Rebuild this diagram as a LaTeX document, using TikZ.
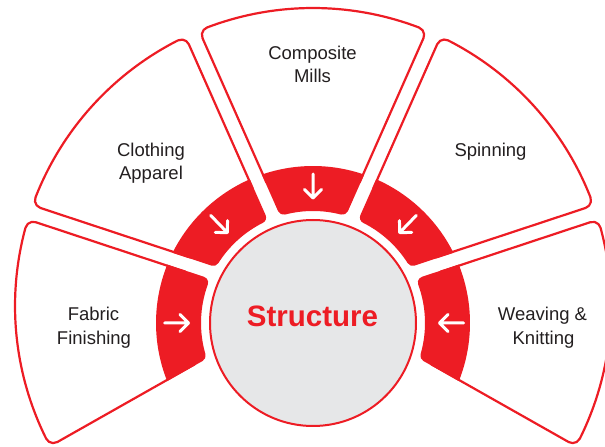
\documentclass[tikz,border=0pt]{standalone}
\usepackage{fontspec}
\setmainfont{Liberation Sans}
\usetikzlibrary{calc}
\definecolor{segred}{HTML}{ED1C24}
\definecolor{circgray}{HTML}{E6E7E8}
\definecolor{txtdark}{HTML}{231F20}
% geometry (units of 10pt)
\def\hh{1.7}      % P lies \hh above C
\def\Rb{29.8}     % outer radius of boxes (around P)
\def\rhob{0.8}    % box corner radius
\def\dd{0.75}     % half gap for boxes
\def\dr{0.65}     % half gap for ring segments
\def\Lin{13.2}    % hidden inner end of boxes
\def\rout{15.7}   % ring outer radius (around C)
\def\rin{11.2}    % ring inner radius
\def\rhor{0.6}    % ring inner corner radius
% point on circle (C, #4) and line offset #3 (side #2) from ray #1 through P
\newcommand\ringpt[6]{%
  \pgfmathsetmacro\rpsa{sin(#1)}%
  \pgfmathsetmacro\rpca{cos(#1)}%
  \pgfmathsetmacro\rpdisc{\hh*\hh*\rpsa*\rpsa-\hh*\hh-(#3)*(#3)-2*\hh*(#3)*(#2)*\rpca+(#4)*(#4)}%
  \pgfmathsetmacro\rpt{-\hh*\rpsa+sqrt(\rpdisc)}%
  \pgfmathsetmacro#5{\rpt*\rpca-(#2)*(#3)*\rpsa}%
  \pgfmathsetmacro#6{\hh+\rpt*\rpsa+(#2)*(#3)*\rpca}%
}
\newcommand\fanbox[2]{%
  \pgfmathsetmacro\fbdl{asin((\dd+\rhob)/(\Rb-\rhob))}%
  \pgfmathsetmacro\fbL{(\Rb-\rhob)*cos(\fbdl)}%
  \pgfmathsetmacro\fbsa{#1-90}\pgfmathsetmacro\fbea{#1+\fbdl}%
  \pgfmathsetmacro\fbeb{#2-\fbdl}\pgfmathsetmacro\fbsb{#2+90}%
  \filldraw[boxline] ($(P)+(#1:\Lin)+(#1+90:\dd)$) -- ($(P)+(#1:\fbL)+(#1+90:\dd)$)
    arc[start angle=\fbsa, end angle=\fbea, radius=\rhob]
    arc[start angle=\fbea, end angle=\fbeb, radius=\Rb]
    arc[start angle=\fbeb, end angle=\fbsb, radius=\rhob]
    -- ($(P)+(#2:\Lin)+(#2-90:\dd)$) -- cycle;
}
\newcommand\ringseg[2]{%
  \ringpt{#1}{1}{\dr}{\rout}{\xoa}{\yoa}%
  \ringpt{#2}{-1}{\dr}{\rout}{\xob}{\yob}%
  \ringpt{#1}{1}{\dr+\rhor}{\rin+\rhor}{\qax}{\qay}%
  \ringpt{#2}{-1}{\dr+\rhor}{\rin+\rhor}{\qbx}{\qby}%
  \pgfmathsetmacro\alA{atan2(\yoa,\xoa)}%
  \pgfmathsetmacro\alB{atan2(\yob,\xob)}%
  \pgfmathsetmacro\alBB{\alA+mod(\alB-\alA+720,360)}%
  \pgfmathsetmacro\beA{atan2(\qay,\qax)}%
  \pgfmathsetmacro\beB{atan2(\qby,\qbx)}%
  \pgfmathsetmacro\tlbx{\qbx-\rhor*sin(#2)}%
  \pgfmathsetmacro\tlby{\qby+\rhor*cos(#2)}%
  \pgfmathsetmacro\fbs{#2+90}%
  \pgfmathsetmacro\fbe{\fbs+mod(\beB+180-\fbs+720,360)}%
  \pgfmathsetmacro\beAA{\beB-mod(\beB-\beA+720,360)}%
  \pgfmathsetmacro\fas{\beA+180}%
  \pgfmathsetmacro\fae{\fas+mod(#1+270-\fas+720,360)}%
  \fill[segred] ($(C)+(\xoa,\yoa)$)
    arc[start angle=\alA, end angle=\alBB, radius=\rout]
    -- ($(C)+(\tlbx,\tlby)$)
    arc[start angle=\fbs, end angle=\fbe, radius=\rhor]
    arc[start angle=\beB, end angle=\beAA, radius=\rin]
    arc[start angle=\fas, end angle=\fae, radius=\rhor]
    -- cycle;
}
\tikzset{
  boxline/.style={draw=segred, fill=white, line width=2.2pt, line join=round},
  core/.style={circle, draw=segred, fill=circgray, line width=2pt, minimum size=206pt, inner sep=0pt},
  lbl/.style={anchor=base, inner sep=0pt, text=txtdark, font=\fontsize{18.5}{22}\selectfont},
  title/.style={anchor=base, inner sep=0pt, text=segred, font=\fontsize{29.5}{34}\selectfont\bfseries},
  arrowline/.style={draw=white, line width=3pt, line cap=round, line join=round},
  inarrow/.pic={\draw[arrowline] (-1.2,0) -- (1.2,0) (0.35,0.85) -- (1.2,0) -- (0.35,-0.85);}
}
\begin{document}
\begin{tikzpicture}[x=10pt,y=10pt]
\useasboundingbox (0,0) rectangle (60.5,44.7);
\clip (0,0) rectangle (60.5,44.7);
\coordinate (C) at (31.3,12.4);
\coordinate (P) at (31.3,14.1);
% outer boxes
\fanbox{161.7}{209.5}
\fanbox{113.9}{161.7}
\fanbox{66.1}{113.9}
\fanbox{18.3}{66.1}
\fanbox{-29.5}{18.3}
% ring segments
\ringseg{161.7}{209.5}
\ringseg{113.9}{161.7}
\ringseg{66.1}{113.9}
\ringseg{18.3}{66.1}
\ringseg{-29.5}{18.3}
% centre
\node[core] (hub) at (C) {};
% arrows
\pic[rotate=0] (arfab) at (17.65,12.4) {inarrow};
\pic[rotate=-46] (arclo) at (21.9,22.3) {inarrow};
\pic[rotate=-90] (arcom) at (31.3,26.1) {inarrow};
\pic[rotate=-134] (arspi) at (40.8,22.3) {inarrow};
\pic[rotate=180] (arwea) at (45.15,12.4) {inarrow};
% labels
\node[title] (structure) at (31.25,12.03) {Structure};
\node[lbl] (comp1) at (31.25,38.77) {Composite};
\node[lbl] (comp2) at (31.25,36.43) {Mills};
\node[lbl] (clo1) at (15.1,29.03) {Clothing};
\node[lbl] (clo2) at (15.1,26.77) {Apparel};
\node[lbl] (spin) at (49.05,29.03) {Spinning};
\node[lbl] (fab1) at (9.35,12.6) {Fabric};
\node[lbl] (fab2) at (9.4,10.25) {Finishing};
\node[lbl] (wea1) at (54.25,12.6) {Weaving \&};
\node[lbl] (wea2) at (54.35,10.25) {Knitting};
\end{tikzpicture}
\end{document}
